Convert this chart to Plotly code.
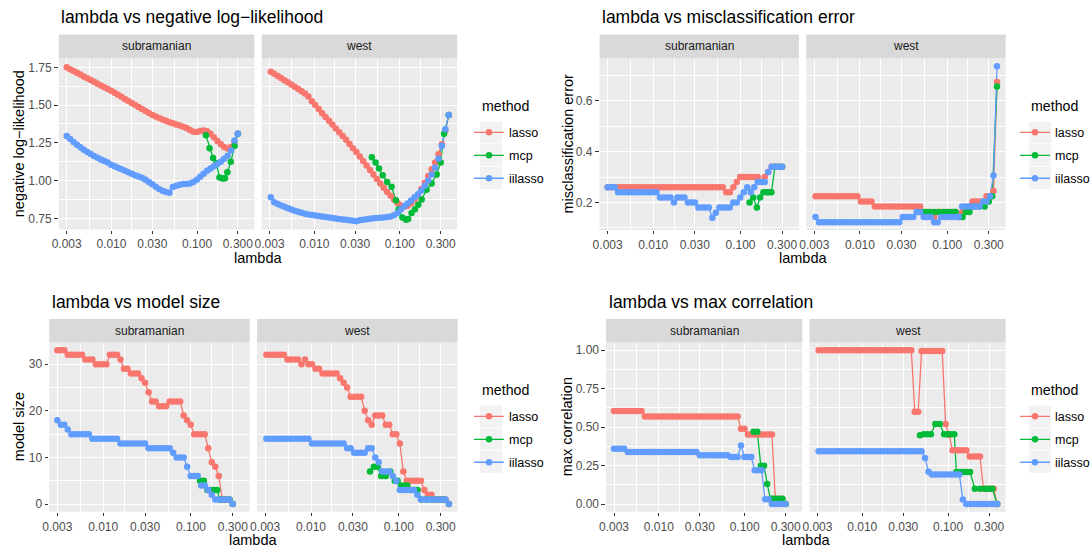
import plotly.graph_objects as go

# ---------------- data ----------------
lambda_subramanian = [0.00300, 0.00329, 0.00361, 0.00395, 0.00434, 0.00475, 0.00521, 0.00572, 0.00627, 0.00687,
                      0.00754, 0.00826, 0.00906, 0.00993, 0.01089, 0.01194, 0.01310, 0.01436, 0.01574, 0.01726,
                      0.01893, 0.02075, 0.02276, 0.02495, 0.02736, 0.03000, 0.03290, 0.03608, 0.03955, 0.04336,
                      0.04755, 0.05213, 0.05717, 0.06268, 0.06873, 0.07536, 0.08263, 0.09060, 0.09934, 0.10893,
                      0.11944, 0.13096, 0.14360, 0.15746, 0.17265, 0.18931, 0.20758, 0.22761, 0.24957, 0.27365,
                      0.30000]
lambda_west = [0.00310, 0.00340, 0.00373, 0.00409, 0.00448, 0.00491, 0.00539, 0.00591, 0.00648, 0.00710,
               0.00779, 0.00854, 0.00936, 0.01026, 0.01126, 0.01234, 0.01353, 0.01484, 0.01627, 0.01784,
               0.01956, 0.02145, 0.02352, 0.02578, 0.02827, 0.03100, 0.03399, 0.03727, 0.04087, 0.04481,
               0.04913, 0.05387, 0.05907, 0.06477, 0.07102, 0.07787, 0.08538, 0.09362, 0.10265, 0.11256,
               0.12342, 0.13533, 0.14839, 0.16271, 0.17841, 0.19562, 0.21450, 0.23520, 0.25789, 0.28278,
               0.31007, 0.33998, 0.37278]
lambda_mcp_subramanian = [0.127, 0.140, 0.154, 0.168, 0.183, 0.199, 0.212, 0.226, 0.248, 0.275, 0.300]
lambda_mcp_west = [0.047, 0.052, 0.057, 0.063, 0.071, 0.080, 0.090, 0.097, 0.107, 0.118, 0.125,
                   0.137, 0.150, 0.164, 0.180, 0.205, 0.235, 0.269, 0.300, 0.328, 0.373]

# negative log-likelihood
nll_lasso_sub = [1.750, 1.738, 1.726, 1.714, 1.702, 1.690, 1.678, 1.666, 1.654, 1.642, 1.630, 1.619, 1.607,
                 1.595, 1.582, 1.568, 1.555, 1.541, 1.528, 1.514, 1.501, 1.488, 1.474, 1.461, 1.447, 1.434,
                 1.424, 1.414, 1.405, 1.396, 1.387, 1.379, 1.372, 1.365, 1.357, 1.349, 1.335, 1.324, 1.322,
                 1.328, 1.331, 1.326, 1.310, 1.287, 1.263, 1.240, 1.222, 1.213, 1.222, 1.256, 1.310]
nll_iilasso_sub = [1.295, 1.275, 1.255, 1.237, 1.220, 1.205, 1.190, 1.176, 1.163, 1.151, 1.140, 1.130, 1.120,
                   1.105, 1.095, 1.085, 1.075, 1.065, 1.055, 1.045, 1.036, 1.027, 1.018, 1.005, 0.990, 0.975,
                   0.960, 0.945, 0.932, 0.925, 0.920, 0.958, 0.965, 0.972, 0.977, 0.978, 0.980, 0.990, 1.005,
                   1.025, 1.045, 1.065, 1.080, 1.095, 1.110, 1.125, 1.145, 1.165, 1.200, 1.265, 1.310]
nll_mcp_sub = [1.300, 1.215, 1.150, 1.115, 1.020, 1.013, 1.015, 1.055, 1.125, 1.230, 1.310]
nll_lasso_west = [1.721, 1.707, 1.693, 1.679, 1.665, 1.651, 1.637, 1.622, 1.607, 1.592, 1.577, 1.557, 1.525,
                  1.500, 1.475, 1.446, 1.422, 1.397, 1.372, 1.345, 1.320, 1.295, 1.270, 1.243, 1.215, 1.190,
                  1.160, 1.130, 1.100, 1.070, 1.040, 1.010, 0.980, 0.953, 0.925, 0.900, 0.875, 0.852, 0.835,
                  0.826, 0.833, 0.850, 0.875, 0.905, 0.945, 0.985, 1.030, 1.075, 1.120, 1.175, 1.240, 1.330,
                  1.434]
nll_iilasso_west = [0.889, 0.856, 0.845, 0.835, 0.826, 0.817, 0.808, 0.801, 0.794, 0.787, 0.781, 0.776, 0.772,
                    0.768, 0.765, 0.762, 0.759, 0.755, 0.752, 0.749, 0.746, 0.743, 0.740, 0.737, 0.734, 0.730,
                    0.737, 0.741, 0.744, 0.747, 0.750, 0.752, 0.754, 0.756, 0.758, 0.762, 0.770, 0.785, 0.808,
                    0.830, 0.848, 0.868, 0.890, 0.910, 0.935, 0.965, 1.000, 1.040, 1.085, 1.145, 1.230, 1.340,
                    1.434]
nll_mcp_west = [1.155, 1.120, 1.080, 1.035, 0.990, 0.960, 0.870, 0.810, 0.755, 0.740, 0.745,
                0.785, 0.810, 0.840, 0.875, 0.940, 0.980, 1.040, 1.120, 1.310, 1.434]

# misclassification error
mis_lasso_sub = [0.26] * 34 + [0.24, 0.24, 0.26, 0.28] + [0.30] * 6 + [0.28, 0.30, 0.32] + [0.34] * 4
mis_iilasso_sub = [0.26, 0.26, 0.26, 0.24, 0.24, 0.24, 0.24, 0.24, 0.24, 0.24, 0.24, 0.24, 0.24, 0.24, 0.24,
                   0.22, 0.22, 0.22, 0.22, 0.20, 0.22, 0.22, 0.22, 0.20, 0.20, 0.20, 0.18, 0.18, 0.18, 0.18,
                   0.14, 0.16, 0.18, 0.18, 0.18, 0.18, 0.20, 0.20, 0.22, 0.24, 0.26, 0.24, 0.26, 0.28, 0.28,
                   0.28, 0.32, 0.34, 0.34, 0.34, 0.34]
mis_mcp_sub = [0.20, 0.22, 0.18, 0.22, 0.24, 0.24, 0.24, 0.24, 0.34, 0.34, 0.34]
mis_lasso_west = ([0.224] * 13 + [0.204] * 4 + [0.184] * 14 + [0.163] * 3 + [0.143] + [0.163] * 6 +
                  [0.143, 0.163, 0.163, 0.184, 0.204, 0.204, 0.204, 0.204, 0.224, 0.224, 0.245, 0.673])
mis_iilasso_west = ([0.143] + [0.122] * 24 + [0.143] * 4 + [0.163] * 2 + [0.143] * 3 + [0.122] * 2 +
                    [0.143] * 6 + [0.184] * 6 + [0.204, 0.204, 0.224, 0.306, 0.735])
mis_mcp_west = [0.163] * 11 + [0.143, 0.143, 0.163, 0.163, 0.184, 0.184, 0.184, 0.204, 0.224, 0.655]

# model size
size_lasso_sub = [33, 33, 33, 32, 32, 32, 32, 32, 31, 31, 31, 30, 30, 30, 30, 32, 32, 32, 31, 29, 29, 28, 28,
                  28, 27, 26, 24, 22, 22, 21, 21, 21, 22, 22, 22, 22, 19, 18, 17, 15, 15, 15, 15, 12, 9, 8, 6,
                  1, 1, 1, 0]
size_iilasso_sub = [18, 17, 17, 16, 15, 15, 15, 15, 15, 15, 14, 14, 14, 14, 14, 14, 14, 14, 13, 13, 13, 13,
                    13, 13, 13, 13, 12, 12, 12, 12, 12, 12, 12, 11, 10, 10, 10, 8, 6, 6, 6, 4, 4, 3, 2, 1, 1,
                    1, 1, 1, 0]
size_mcp_sub = [5, 5, 3, 3, 3, 3, 1, 1, 1, 1, 0]
size_lasso_west = [32, 32, 32, 32, 32, 32, 31, 31, 31, 31, 30, 31, 30, 30, 29, 29, 28, 28, 28, 28, 28, 27, 26,
                   25, 23, 23, 23, 23, 20, 18, 17, 19, 19, 19, 17, 17, 15, 15, 13, 7, 5, 5, 5, 5, 5, 3, 2, 2,
                   1, 1, 1, 1, 0]
size_iilasso_west = ([14] * 13 + [13] * 10 + [12] * 2 + [11] * 4 + [12] * 2 + [10, 9, 7, 7, 7, 6, 5] +
                     [3] * 5 + [2] + [1] * 8 + [0])
size_mcp_west = [7, 8, 8, 6, 6, 7, 5, 5, 4, 4, 4, 3, 3, 3, 1, 1, 1, 1, 1, 1, 0]

# max correlation
cor_lasso_sub = [0.605] * 9 + [0.570] * 28 + [0.489] * 2 + [0.452] * 8 + [0.035] * 3 + [0.0]
cor_iilasso_sub = ([0.360] * 4 + [0.338] * 21 + [0.317] * 9 + [0.306] * 3 + [0.381] + [0.306] * 3 +
                   [0.220] * 3 + [0.032] * 2 + [0.0] * 5)
cor_mcp_sub = [0.470, 0.470, 0.250, 0.250, 0.130, 0.035, 0.035, 0.035, 0.035, 0.035, 0.0]
cor_lasso_west = ([1.0] * 28 + [0.60] * 2 + [0.995] * 7 + [0.52, 0.45] + [0.35] * 5 + [0.31] * 4 +
                  [0.10] * 4 + [0.0])
cor_iilasso_west = [0.343] * 31 + [0.300, 0.210] + [0.193] * 9 + [0.030] + [0.0] * 10
cor_mcp_west = [0.448, 0.454, 0.454, 0.454, 0.520, 0.520, 0.454, 0.454, 0.454, 0.454, 0.208,
                0.208, 0.208, 0.208, 0.208, 0.100, 0.100, 0.100, 0.100, 0.100, 0.0]

methods = ["lasso", "mcp", "iilasso"]
datasets = ["subramanian", "west"]
x_tickvals = [0.003, 0.01, 0.03, 0.1, 0.3]
x_ticktext = ["0.003", "0.010", "0.030", "0.100", "0.300"]
x_minor = [0.005477, 0.017321, 0.054772, 0.173205]

panels = [
    dict(title="lambda vs negative log\u2212likelihood", ytitle="negative log\u2212likelihood",
         series={"subramanian": {"lasso": (lambda_subramanian, nll_lasso_sub),
                                 "mcp": (lambda_mcp_subramanian, nll_mcp_sub),
                                 "iilasso": (lambda_subramanian, nll_iilasso_sub)},
                 "west": {"lasso": (lambda_west, nll_lasso_west),
                          "mcp": (lambda_mcp_west, nll_mcp_west),
                          "iilasso": (lambda_west, nll_iilasso_west)}},
         yrange=[0.676, 1.812], yticks=[0.75, 1.0, 1.25, 1.5, 1.75],
         ylabels=["0.75", "1.00", "1.25", "1.50", "1.75"], yminor=[0.875, 1.125, 1.375, 1.625]),
    dict(title="lambda vs misclassification error", ytitle="misclassification error",
         series={"subramanian": {"lasso": (lambda_subramanian, mis_lasso_sub),
                                 "mcp": (lambda_mcp_subramanian, mis_mcp_sub),
                                 "iilasso": (lambda_subramanian, mis_iilasso_sub)},
                 "west": {"lasso": (lambda_west, mis_lasso_west),
                          "mcp": (lambda_mcp_west, mis_mcp_west),
                          "iilasso": (lambda_west, mis_iilasso_west)}},
         yrange=[0.092, 0.767], yticks=[0.2, 0.4, 0.6], ylabels=["0.2", "0.4", "0.6"],
         yminor=[0.1, 0.3, 0.5, 0.7]),
    dict(title="lambda vs model size", ytitle="model size",
         series={"subramanian": {"lasso": (lambda_subramanian, size_lasso_sub),
                                 "mcp": (lambda_mcp_subramanian, size_mcp_sub),
                                 "iilasso": (lambda_subramanian, size_iilasso_sub)},
                 "west": {"lasso": (lambda_west, size_lasso_west),
                          "mcp": (lambda_mcp_west, size_mcp_west),
                          "iilasso": (lambda_west, size_iilasso_west)}},
         yrange=[-1.65, 34.65], yticks=[0, 10, 20, 30], ylabels=["0", "10", "20", "30"],
         yminor=[5, 15, 25]),
    dict(title="lambda vs max correlation", ytitle="max correlation",
         series={"subramanian": {"lasso": (lambda_subramanian, cor_lasso_sub),
                                 "mcp": (lambda_mcp_subramanian, cor_mcp_sub),
                                 "iilasso": (lambda_subramanian, cor_iilasso_sub)},
                 "west": {"lasso": (lambda_west, cor_lasso_west),
                          "mcp": (lambda_mcp_west, cor_mcp_west),
                          "iilasso": (lambda_west, cor_iilasso_west)}},
         yrange=[-0.05, 1.05], yticks=[0, 0.25, 0.5, 0.75, 1.0],
         ylabels=["0.00", "0.25", "0.50", "0.75", "1.00"], yminor=[0.125, 0.375, 0.625, 0.875]),
]

# ---------------- layout geometry (pixels) ----------------
W, H = 1091, 547
def px(v):
    return v / W
def py(v):
    return 1 - v / H

geometry = [
    dict(xdom=[(58.8, 254.4), (261.7, 457.2)], ytop=58, ybot=229.5, strip_top=34.5, title_y=17.5,
         xtitle_y=258, ytitle_x=18.5, leg_x=469, key_x=480, key_y=121.7),
    dict(xdom=[(599.6, 798.95), (806.25, 1005.6)], ytop=58, ybot=230, strip_top=34.5, title_y=17.5,
         xtitle_y=258, ytitle_x=567.5, leg_x=1015, key_x=1029, key_y=121.7),
    dict(xdom=[(49.2, 249.75), (257.05, 457.6)], ytop=342.5, ybot=511.8, strip_top=319, title_y=301.5,
         xtitle_y=540.3, ytitle_x=19, leg_x=469, key_x=480, key_y=405.7),
    dict(xdom=[(606.1, 802.2), (809.5, 1005.6)], ytop=342.5, ybot=511.8, strip_top=319, title_y=301.5,
         xtitle_y=540.3, ytitle_x=567, leg_x=1015, key_x=1029, key_y=405.7),
]
KEY_W, KEY_H, KEY_STEP = 22, 21.7, 22.7

COL = {"lasso": "#F8766D", "mcp": "#00BA38", "iilasso": "#619CFF"}
FONT = "Liberation Sans, Arial, Helvetica, sans-serif"
XRANGE = [-2.615, -0.33]
TICK_FONT = dict(family=FONT, size=12, color="#4D4D4D")

fig = go.Figure()
layout = {}
shapes = []
annotations = []

for p, (panel, g) in enumerate(zip(panels, geometry)):
    first_axes = None
    for f, ds in enumerate(datasets):
        n = 2 * p + f + 1
        xa = "x" if n == 1 else f"x{n}"
        ya = "y" if n == 1 else f"y{n}"
        if first_axes is None:
            first_axes = (xa, ya)
        x0, x1 = g["xdom"][f]
        layout["xaxis" if n == 1 else f"xaxis{n}"] = dict(
            domain=[px(x0), px(x1)], anchor=ya, type="log", range=XRANGE,
            tickmode="array", tickvals=x_tickvals, ticktext=x_ticktext,
            ticks="outside", ticklen=3.4, tickwidth=1.1, tickcolor="#333333",
            tickfont=TICK_FONT,
            showgrid=True, gridcolor="#FFFFFF", gridwidth=1.3,
            minor=dict(tickmode="array", tickvals=x_minor, showgrid=True, gridcolor="#FFFFFF",
                       gridwidth=0.65, ticks=""),
            zeroline=False, showline=False, fixedrange=True)
        layout["yaxis" if n == 1 else f"yaxis{n}"] = dict(
            domain=[py(g["ybot"]), py(g["ytop"])], anchor=xa, range=panel["yrange"],
            tickmode="array", tickvals=panel["yticks"], ticktext=panel["ylabels"],
            showticklabels=(f == 0), ticks="outside" if f == 0 else "",
            ticklen=3.7, tickwidth=1.1, tickcolor="#333333",
            tickfont=TICK_FONT,
            showgrid=True, gridcolor="#FFFFFF", gridwidth=1.3,
            minor=dict(tickmode="array", tickvals=panel["yminor"], showgrid=True, gridcolor="#FFFFFF",
                       gridwidth=0.65, ticks=""),
            zeroline=False, showline=False, fixedrange=True)

        # strip
        shapes.append(dict(type="rect", xref="paper", yref="paper", x0=px(x0), x1=px(x1),
                           y0=py(g["ytop"]), y1=py(g["strip_top"]), fillcolor="#D9D9D9",
                           line=dict(width=0), layer="below"))
        annotations.append(dict(text=ds, xref="paper", yref="paper", x=px((x0 + x1) / 2),
                                y=py((g["ytop"] + g["strip_top"]) / 2), xanchor="center", yanchor="middle",
                                showarrow=False, font=dict(family=FONT, size=12, color="#1A1A1A")))

        # lines first, then points (ggplot layer order)
        for m in methods:
            xs, ys = panel["series"][ds][m]
            fig.add_trace(go.Scatter(x=xs, y=ys, mode="lines", line=dict(color=COL[m], width=1.3),
                                     xaxis=xa, yaxis=ya, showlegend=False, hoverinfo="skip"))
        for m in methods:
            xs, ys = panel["series"][ds][m]
            fig.add_trace(go.Scatter(x=xs, y=ys, mode="markers", marker=dict(color=COL[m], size=6.5),
                                     xaxis=xa, yaxis=ya, showlegend=False, name=m))

    # legend key backgrounds (ggplot grey95 key boxes)
    for i in range(3):
        ky = g["key_y"] + i * KEY_STEP
        shapes.append(dict(type="rect", xref="paper", yref="paper", x0=px(g["key_x"]),
                           x1=px(g["key_x"] + KEY_W), y0=py(ky + KEY_H), y1=py(ky),
                           fillcolor="#F2F2F2", line=dict(width=0), layer="below"))
    # legend title
    annotations.append(dict(text="method", xref="paper", yref="paper", x=px(g["key_x"]),
                            y=py(g["key_y"] - 16), xanchor="left", yanchor="middle", showarrow=False,
                            font=dict(family=FONT, size=14.2, color="#000000")))

    # legend entries for this panel
    leg = "legend" if p == 0 else f"legend{p + 1}"
    for m in methods:
        fig.add_trace(go.Scatter(x=[None], y=[None], mode="lines+markers", name=m,
                                 line=dict(color=COL[m], width=1.3), marker=dict(color=COL[m], size=6.5),
                                 legend=leg, legendgroup=f"{p}-{m}", showlegend=True,
                                 xaxis=first_axes[0], yaxis=first_axes[1]))
    layout[leg] = dict(x=px(g["leg_x"]), y=py(g["key_y"] - 4), xref="paper", yref="paper",
                       xanchor="left", yanchor="top", bgcolor="rgba(0,0,0,0)", borderwidth=0,
                       font=dict(family=FONT, size=12.5, color="#000000"),
                       tracegroupgap=3.7, itemwidth=30)

    lx0 = g["xdom"][0][0]
    lx1 = g["xdom"][1][1]
    # panel title
    annotations.append(dict(text=panel["title"], xref="paper", yref="paper", x=px(lx0 + 0.5),
                            y=py(g["title_y"]), xanchor="left", yanchor="middle", showarrow=False,
                            font=dict(family=FONT, size=17.5, color="#000000")))
    # x axis title
    annotations.append(dict(text="lambda", xref="paper", yref="paper", x=px((lx0 + lx1) / 2),
                            y=py(g["xtitle_y"]), xanchor="center", yanchor="middle", showarrow=False,
                            borderpad=0, font=dict(family=FONT, size=14.5, color="#000000")))
    # y axis title
    annotations.append(dict(text=panel["ytitle"], xref="paper", yref="paper", x=px(g["ytitle_x"]),
                            y=py((g["ytop"] + g["ybot"]) / 2), xanchor="center", yanchor="middle",
                            textangle=-90, showarrow=False,
                            font=dict(family=FONT, size=14.5, color="#000000")))

fig.update_layout(
    width=W, height=H, margin=dict(l=0, r=0, t=0, b=0, autoexpand=False),
    paper_bgcolor="#FFFFFF", plot_bgcolor="#EBEBEB",
    font=dict(family=FONT, color="#000000"),
    shapes=shapes, annotations=annotations, hovermode=False,
    **layout,
)

fig.write_html("out.html", config={"displayModeBar": False},
               post_script="document.body.style.margin='0';document.body.style.overflow='hidden';")
